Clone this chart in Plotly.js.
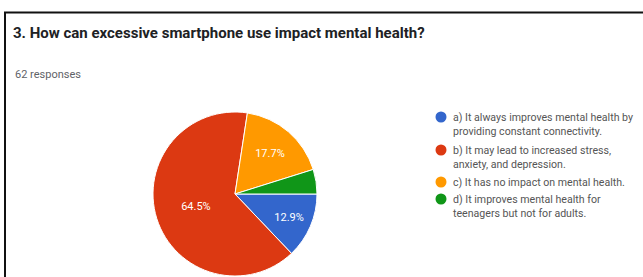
<!DOCTYPE html>
<html>
<head>
<meta charset="utf-8">
<script src="https://cdn.plot.ly/plotly-3.0.1.min.js"></script>
<style>html,body{margin:0;padding:0;background:#fff;}#chart{width:643px;height:277px;}</style>
</head>
<body>
<div id="chart"></div>
<script>
// ---- data ----
const titleText = "3. How can excessive smartphone use impact mental health?";
const subtitleText = "62 responses";
const categories = [
  "a) It always improves mental health by<br>providing constant connectivity.",
  "b) It may lead to increased stress,<br>anxiety, and depression.",
  "c) It has no impact on mental health.",
  "d) It improves mental health for<br>teenagers but not for adults."
];
const responses = [8, 40, 11, 3];
const colors = ["#3366cc", "#dc3912", "#ff9900", "#109618"];
const labelTemplates = ["%{percent:.1%}", "%{percent:.1%}", "%{percent:.1%}", ""];

// ---- layout helpers ----
const W = 643, H = 277;
const px = x => x / W;
const py = y => 1 - y / H;

const pie = {
  type: "pie",
  labels: categories,
  values: responses,
  sort: false,
  direction: "clockwise",
  rotation: 90,
  marker: { colors: colors, line: { color: "#ffffff", width: 1 } },
  texttemplate: labelTemplates,
  textposition: "inside",
  insidetextorientation: "horizontal",
  insidetextfont: { color: "#ffffff", size: 11, family: "Roboto, Arial, sans-serif" },
  hoverinfo: "none",
  showlegend: false,
  domain: { x: [px(153), px(317)], y: [1 / H, 165 / H] }
};

// legend built from the category arrays
const legendY = [117, 150, 182, 199];
const shapes = [{
  type: "rect", xref: "paper", yref: "paper",
  x0: px(5), x1: 1.1, y0: -0.2, y1: py(12.5),
  line: { color: "#111111", width: 2 }, fillcolor: "rgba(0,0,0,0)"
}];
const annotations = [{
  xref: "paper", yref: "paper", x: px(13), y: py(74), xanchor: "left", yanchor: "middle",
  text: subtitleText, showarrow: false,
  font: { family: "Roboto, Arial, sans-serif", size: 11, color: "#5f6368" }
}];
categories.forEach((c, i) => {
  shapes.push({
    type: "circle", xref: "paper", yref: "paper",
    xsizemode: "pixel", ysizemode: "pixel",
    xanchor: px(441), yanchor: py(legendY[i]),
    x0: -5.5, x1: 5.5, y0: -5.5, y1: 5.5,
    fillcolor: colors[i], line: { width: 0 }
  });
  annotations.push({
    xref: "paper", yref: "paper", x: px(451), y: py(legendY[i] - 8),
    xanchor: "left", yanchor: "top", align: "left",
    text: c, showarrow: false,
    font: { family: "Roboto, Arial, sans-serif", size: 10.6, color: "#555555" }
  });
});

const layout = {
  width: W, height: H,
  margin: { l: 0, r: 0, t: 0, b: 0 },
  paper_bgcolor: "#ffffff",
  title: {
    text: titleText, xref: "paper", yref: "paper",
    x: px(13), xanchor: "left", y: py(33), yanchor: "middle",
    font: { family: "Roboto, Arial, sans-serif", size: 15, weight: 700, color: "#202124" }
  },
  shapes: shapes,
  annotations: annotations,
  showlegend: false
};

Plotly.newPlot("chart", [pie], layout, { displayModeBar: false, staticPlot: true });
</script>
</body>
</html>
